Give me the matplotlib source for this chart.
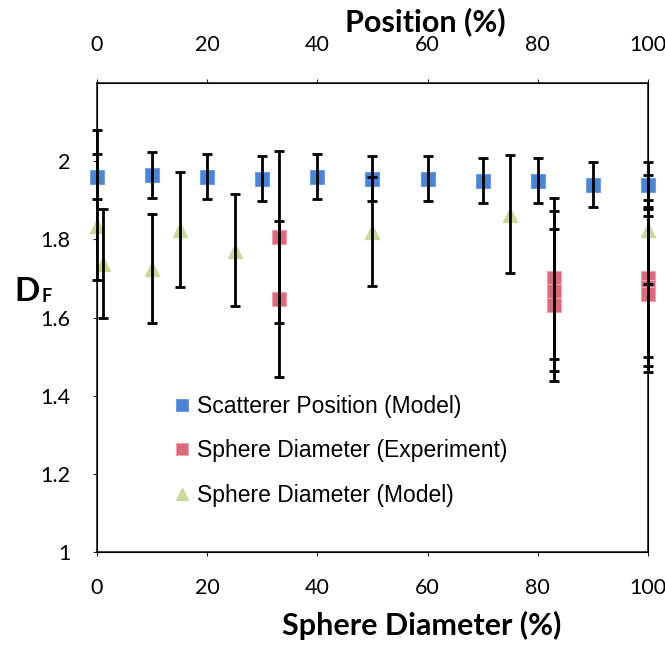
import numpy as np
import matplotlib.pyplot as plt

# Scatterer position (model) - plotted against top axis
pos_x = [0, 10, 20, 30, 40, 50, 60, 70, 80, 90, 100]
pos_y = [1.96, 1.965, 1.96, 1.955, 1.96, 1.955, 1.955, 1.95, 1.95, 1.94, 1.94]
pos_err = [0.058, 0.058, 0.058, 0.057, 0.058, 0.057, 0.058, 0.057, 0.057, 0.057, 0.057]

# Sphere diameter (experiment)
exp_x = [33, 33, 83, 83, 83, 100, 100, 100]
exp_y = [1.805, 1.648, 1.70, 1.667, 1.632, 1.70, 1.677, 1.66]
exp_err = [0.22, 0.20, 0.205, 0.205, 0.195, 0.20, 0.20, 0.20]

# Sphere diameter (model)
mod_x = [0, 1, 10, 15, 25, 50, 75, 100]
mod_y = [1.835, 1.738, 1.725, 1.823, 1.77, 1.82, 1.862, 1.825]
mod_err_lo = [0.138, 0.14, 0.14, 0.145, 0.14, 0.14, 0.147, 0.14]
mod_err_hi = [0.245, 0.14, 0.14, 0.15, 0.145, 0.14, 0.155, 0.14]

xticks = [0, 20, 40, 60, 80, 100]
yticks = [1, 1.2, 1.4, 1.6, 1.8, 2]

c_blue = '#4a84d2'
c_red = '#d9697c'
c_tri = '#c9d89b'

def main():
    fig = plt.figure(figsize=(6.65, 6.45), dpi=100)
    ax = fig.add_axes([0.1459, 0.1442, 0.8285, 0.7271])
    ax.set_xlim(0, 100)
    ax.set_ylim(1, 2.2)

    ekw = dict(fmt='none', ecolor='black', elinewidth=2, capsize=3.5, capthick=2,
               zorder=4, clip_on=False)
    # markers first, error bars on top
    ax.plot(pos_x, pos_y, 's', color=c_blue, mec='#6f9be0', mew=0.8, ms=10,
            zorder=3, clip_on=False, label='Scatterer Position (Model)')
    ax.plot(exp_x, exp_y, 's', color=c_red, mec='#eba3b0', mew=0.8, ms=10,
            zorder=3, clip_on=False, label='Sphere Diameter (Experiment)')
    ax.plot(mod_x, mod_y, '^', color=c_tri, ms=10, zorder=3, clip_on=False,
            label='Sphere Diameter (Model)')
    ax.errorbar(pos_x, pos_y, yerr=pos_err, **ekw)
    ax.errorbar(exp_x, exp_y, yerr=exp_err, **ekw)
    ax.errorbar(mod_x, mod_y, yerr=[mod_err_lo, mod_err_hi], **ekw)

    tick_font = dict(family='Lato', size=15.5)
    ax.set_xticks(xticks)
    ax.set_yticks(yticks)
    ax.set_xticklabels([str(t) for t in xticks], fontdict=tick_font)
    ax.set_yticklabels(['1', '1.2', '1.4', '1.6', '1.8', '2'], fontdict=tick_font)
    ax.tick_params(length=3, width=0.8, pad=16, colors='#222222', labelcolor='black')
    for s in ax.spines.values():
        s.set_linewidth(1.2)
        s.set_color('#222222')

    ax.set_xlabel('Sphere Diameter (%)', family='Lato', fontweight='bold', fontsize=22)
    ax.xaxis.set_label_coords(0.59, -0.125)

    top = ax.twiny()
    top.set_xlim(0, 100)
    top.set_xticks(xticks)
    top.set_xticklabels([str(t) for t in xticks], fontdict=tick_font)
    top.tick_params(length=3, width=0.8, pad=17, colors='#222222', labelcolor='black')
    top.set_xlabel('Position (%)', family='Lato', fontweight='bold', fontsize=22)
    top.xaxis.set_label_coords(0.595, 1.11)

    fig.text(0.022, 0.548, 'D', family='Lato', fontweight='bold', fontsize=24, va='center')
    fig.text(0.063, 0.540, 'F', family='Lato', fontweight='bold', fontsize=13, va='center')

    ax.legend(loc='upper left', bbox_to_anchor=(0.125, 0.355), frameon=False,
              prop=dict(family='Liberation Sans', size=16.5), handlelength=0.6,
              handletextpad=0.35, labelspacing=0.95, markerscale=0.85, borderaxespad=0)

    fig.savefig('out.png', dpi=100)

if __name__ == "__main__":
    main()
